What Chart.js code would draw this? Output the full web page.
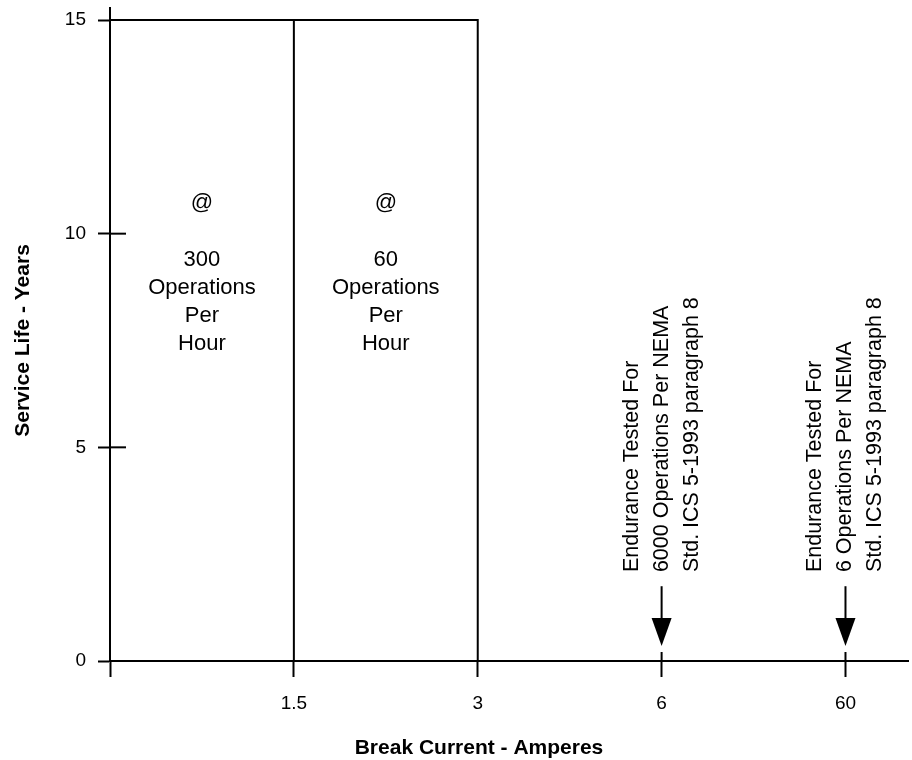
<!DOCTYPE html>
<html>
<head>
<meta charset="utf-8">
<script src="https://cdn.jsdelivr.net/npm/chart.js@4.4.0/dist/chart.umd.min.js"></script>
<style>
html, body { margin: 0; padding: 0; background: #fff; }
#wrap { width: 912px; height: 760px; }
</style>
</head>
<body>
<div id="wrap"><canvas id="myChart"></canvas></div>
<script>
// break current tick labels, one per axis slot
var currentLabels = ['', '1.5', '3', '6', '60'];
var lifeTicks = [0, 5, 10, 15];

// the two rating bands: slot where each starts/ends and life in years
var bandStart = [0, 1];
var bandEnd = [1, 2];
var bandLife = [15, 15];
var bandText = [
    ['@', '', '300', 'Operations', 'Per', 'Hour'],
    ['@', '', '60', 'Operations', 'Per', 'Hour']
];

// endurance test arrows
var arrowSlot = [3, 4];
var arrowFrom = 1.75;
var arrowTo = 0.35;
var enduranceText = [
    ['Endurance Tested For', '6000 Operations Per NEMA', 'Std. ICS 5-1993 paragraph 8'],
    ['Endurance Tested For', '6 Operations Per NEMA', 'Std. ICS 5-1993 paragraph 8']
];

var FONT = '"Liberation Sans", Arial, Helvetica, sans-serif';

function seg(ctx, x1, y1, x2, y2) {
    ctx.beginPath();
    ctx.moveTo(x1, y1);
    ctx.lineTo(x2, y2);
    ctx.stroke();
}

var decor = {
    id: 'decor',
    afterDatasetsDraw: function(chart) {
        var ctx = chart.ctx;
        var xs = chart.scales.x, ys = chart.scales.y;
        ctx.save();
        ctx.strokeStyle = '#000';
        ctx.fillStyle = '#000';
        ctx.lineWidth = 2;

        // axis tails and inner tick marks
        seg(ctx, xs.left, ys.top, xs.left, ys.top - 13);
        lifeTicks.forEach(function(v) {
            if (v > 0 && v < 15) {
                var py = ys.getPixelForValue(v);
                seg(ctx, xs.left, py, xs.left + 16, py);
            }
        });
        arrowSlot.forEach(function(s) {
            var px = xs.getPixelForValue(s);
            seg(ctx, px, ys.bottom, px, ys.bottom - 9);
        });

        // arrows
        arrowSlot.forEach(function(s) {
            var px = xs.getPixelForValue(s);
            var y0 = ys.getPixelForValue(arrowFrom);
            var y1 = ys.getPixelForValue(arrowTo);
            seg(ctx, px, y0, px, y1 - 24);
            ctx.beginPath();
            ctx.moveTo(px - 10, y1 - 28);
            ctx.lineTo(px + 10, y1 - 28);
            ctx.lineTo(px, y1);
            ctx.closePath();
            ctx.fill();
        });

        // band labels
        ctx.font = '22px ' + FONT;
        ctx.textAlign = 'center';
        ctx.textBaseline = 'middle';
        bandText.forEach(function(lines, i) {
            var cx = (xs.getPixelForValue(bandStart[i]) + xs.getPixelForValue(bandEnd[i])) / 2;
            var y = ys.getPixelForValue(10.72);
            lines.forEach(function(t, k) {
                ctx.fillText(t, cx, y + k * 28.3);
            });
        });

        // endurance notes, rotated
        ctx.font = '21.5px ' + FONT;
        ctx.textAlign = 'left';
        enduranceText.forEach(function(lines, i) {
            var px = xs.getPixelForValue(arrowSlot[i]);
            var py = ys.getPixelForValue(2.08);
            lines.forEach(function(t, k) {
                ctx.save();
                ctx.translate(px + (k - 1) * 30, py);
                ctx.rotate(-Math.PI / 2);
                ctx.fillText(t, 0, 0);
                ctx.restore();
            });
        });

        // x axis title
        ctx.font = 'bold 21px ' + FONT;
        ctx.textAlign = 'center';
        ctx.fillText('Break Current - Amperes', (xs.left + xs.right) / 2 - 30, 748);
        ctx.restore();
    }
};

var ctx = document.getElementById('myChart');
var myChart = new Chart(ctx, {
    type: 'line',
    data: {
        datasets: [{
            data: [
                {x: bandStart[0], y: bandLife[0]},
                {x: bandEnd[1], y: bandLife[1]},
                {x: bandEnd[1], y: 0}
            ],
            borderColor: '#000',
            borderWidth: 2,
            pointRadius: 0,
            clip: false
        }, {
            data: [
                {x: bandEnd[0], y: 0},
                {x: bandEnd[0], y: bandLife[0]}
            ],
            borderColor: '#000',
            borderWidth: 2,
            pointRadius: 0,
            clip: false
        }]
    },
    options: {
        responsive: true,
        maintainAspectRatio: false,
        animation: false,
        events: [],
        layout: { padding: { top: 20, right: 4, left: 0, bottom: 0 } },
        plugins: {
            legend: { display: false },
            tooltip: { enabled: false }
        },
        scales: {
            x: {
                type: 'linear',
                min: 0,
                max: 4.34,
                afterBuildTicks: function(axis) {
                    axis.ticks = currentLabels.map(function(l, i) { return {value: i}; });
                },
                afterFit: function(axis) { axis.height = 99; },
                ticks: {
                    color: '#000',
                    font: { family: FONT, size: 19 },
                    maxRotation: 0,
                    autoSkip: false,
                    padding: 15,
                    callback: function(v) { return currentLabels[v]; }
                },
                grid: {
                    drawOnChartArea: false,
                    tickLength: 16,
                    tickWidth: 2,
                    tickColor: '#000'
                },
                border: { color: '#000', width: 2 }
            },
            y: {
                min: 0,
                max: 15,
                afterBuildTicks: function(axis) {
                    axis.ticks = lifeTicks.map(function(v) { return {value: v}; });
                },
                afterFit: function(axis) {
                    axis.width = 110;
                    axis.paddingTop = 0;
                    axis.paddingBottom = 0;
                },
                ticks: {
                    color: '#000',
                    font: { family: FONT, size: 19 },
                    padding: 12
                },
                grid: {
                    drawOnChartArea: false,
                    tickLength: 12,
                    tickWidth: 2,
                    tickColor: '#000'
                },
                border: { color: '#000', width: 2 },
                title: {
                    display: true,
                    text: 'Service Life - Years',
                    color: '#000',
                    font: { family: FONT, size: 21, weight: 'bold' },
                    padding: { top: 11, bottom: 0 }
                }
            }
        }
    },
    plugins: [decor]
});
</script>
</body>
</html>
